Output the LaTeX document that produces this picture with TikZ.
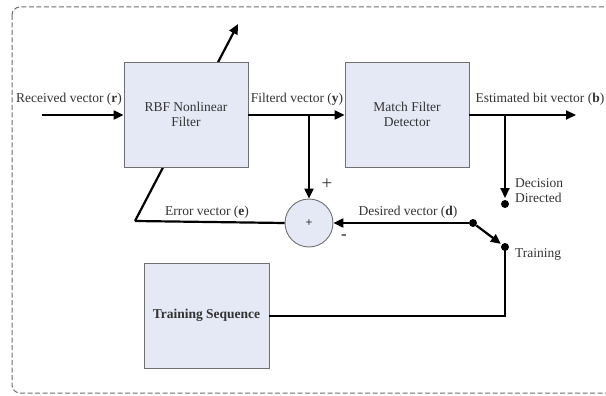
\documentclass[tikz,border=0pt]{standalone}
\usepackage{fontspec}
\setmainfont{Liberation Serif}
\usetikzlibrary{arrows.meta}
\definecolor{boxfill}{HTML}{E4E9F5}
\definecolor{boxline}{HTML}{707070}
\definecolor{txt}{HTML}{333333}
\tikzset{
  block/.style={draw=boxline, line width=0.9pt, fill=boxfill, minimum width=124pt, minimum height=105pt, align=center, inner sep=0pt, text=txt, font=\fontsize{13.5}{15}\selectfont},
  summer/.style={circle, draw=boxline, line width=0.9pt, fill=boxfill, minimum size=48pt, inner sep=0pt},
  wire/.style={line width=2.2pt, black},
  arr/.style={wire, -{Triangle[length=10pt,width=9pt]}},
  lbl/.style={text=txt, font=\fontsize{13.5}{15}\selectfont, inner sep=0pt},
  dot/.style={circle, fill=black, minimum size=8pt, inner sep=0pt},
  frame/.style={draw=gray!85!black, line width=1pt, dash pattern=on 5pt off 2.5pt, rounded corners=8pt}
}
\begin{document}
\begin{tikzpicture}[x=1pt,y=-1pt]
\useasboundingbox (0,0) rectangle (606,396);
\draw[frame] (12,7) rectangle (640,393);

% summing junction and the error feedback path (drawn before the filter box)
\node[summer] (sum) at (309,223) {};
\node[lbl, font=\fontsize{12}{12}\selectfont\bfseries] at (sum.center) {+};
\coordinate (ecorner) at (135,221);
\coordinate (adapt) at (238,24);
\draw[wire] (sum.west) -- (ecorner);
\draw[arr] (ecorner) -- (adapt);

% blocks
\node[block] (rbf) at (186,114.5) {RBF Nonlinear\\Filter};
\node[block] (mf) at (407,114.5) {Match Filter\\Detector};
\node[block, minimum width=125pt, font=\fontsize{13.5}{15}\selectfont\bfseries] (ts) at (206.5,315.5) {Training Sequence};

% forward path
\coordinate (in) at (42,115);
\coordinate (out) at (576,115);
\coordinate (ybr) at (309,115);
\coordinate (bbr) at (505,115);
\draw[arr] (in) -- (rbf.west |- in);
\draw[arr] (rbf.east |- in) -- (mf.west |- in);
\draw[arr] (mf.east |- in) -- (out);
\draw[arr] (ybr) -- (sum.north);

% decision / training switch
\node[dot] (dd) at (505,204) {};
\node[dot] (sw) at (473,223) {};
\node[dot] (tr) at (505,247) {};
\coordinate (ddtip) at (505,198);
\coordinate (tcorner) at (505,316);
\draw[arr] (bbr) -- (ddtip);
\draw[arr] (sw) -- (sum.east);
\draw[arr, shorten >=1pt] (sw) -- (tr);
\draw[wire] (tr.center) -- (tcorner) -- (ts.east |- tcorner);

% labels
\node[lbl] at (69,99) {Received vector (\textbf{r})};
\node[lbl] at (297,99) {Filterd vector (\textbf{y})};
\node[lbl] at (540,99) {Estimated bit vector (\textbf{b})};
\node[lbl] at (207,212) {Error vector (\textbf{e})};
\node[lbl] at (408,212) {Desired vector (\textbf{d})};
\node[lbl, anchor=west, align=left] at (515,191) {Decision\\Directed};
\node[lbl, anchor=west] at (515,254) {Training};
\node[lbl, font=\fontsize{19}{20}\selectfont] at (327,184) {+};
\node[lbl, font=\fontsize{17}{18}\selectfont\bfseries] at (344,237) {-};
\end{tikzpicture}
\end{document}
